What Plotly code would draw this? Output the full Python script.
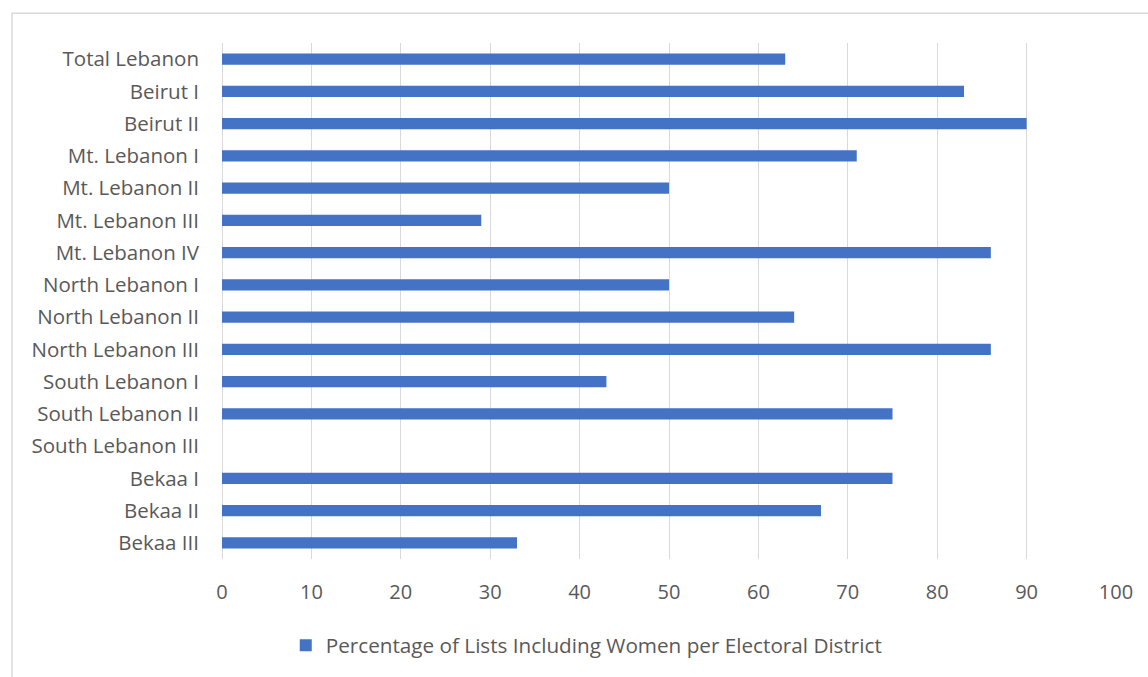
import plotly.graph_objects as go

districts = ["Total Lebanon", "Beirut I", "Beirut II", "Mt. Lebanon I", "Mt. Lebanon II",
             "Mt. Lebanon III", "Mt. Lebanon IV", "North Lebanon I", "North Lebanon II",
             "North Lebanon III", "South Lebanon I", "South Lebanon II", "South Lebanon III",
             "Bekaa I", "Bekaa II", "Bekaa III"]
percentages = [63, 83, 90, 71, 50, 29, 86, 50, 64, 86, 43, 75, None, 75, 67, 33]
x_ticks = [0, 10, 20, 30, 40, 50, 60, 70, 80, 90, 100]
series_name = "Percentage of Lists Including Women per Electoral District"

FONT = "Open Sans"
TXT = "#595959"
GRID = "#D9D9D9"

fig = go.Figure()
fig.add_trace(go.Bar(
    y=districts, x=percentages, orientation="h", name=series_name,
    marker=dict(color="#4472C4", line=dict(width=0)), width=0.35,
    showlegend=True,
))

fig.update_layout(
    width=1148, height=677,
    margin=dict(l=222, r=32, t=43, b=114),
    paper_bgcolor="white", plot_bgcolor="white",
    font=dict(family=FONT, size=20, color=TXT),
    showlegend=True,
    legend=dict(orientation="h", x=0.408, xanchor="center", y=-0.167, yanchor="middle",
                font=dict(family=FONT, size=20.7, color=TXT), itemwidth=30,
                itemsizing="constant"),
    xaxis=dict(range=[0, 100], tickvals=x_ticks, showgrid=True, gridcolor=GRID, gridwidth=1,
               zeroline=True, zerolinecolor=GRID, zerolinewidth=1, showline=False,
               ticks="", ticklabelstandoff=19, tickfont=dict(size=20, color=TXT)),
    yaxis=dict(categoryorder="array", categoryarray=districts, autorange="reversed",
               showgrid=False, zeroline=False, showline=False, ticks="",
               ticklabelstandoff=22, tickfont=dict(size=20.5, color=TXT)),
    shapes=[dict(type="rect", xref="paper", yref="paper",
                 x0=(12 - 222) / 894, x1=1.3, y0=-0.5, y1=(563 - 13) / 520,
                 line=dict(color=GRID, width=1.5), fillcolor="rgba(0,0,0,0)", layer="below")],
)

fig.write_html("out.html")
